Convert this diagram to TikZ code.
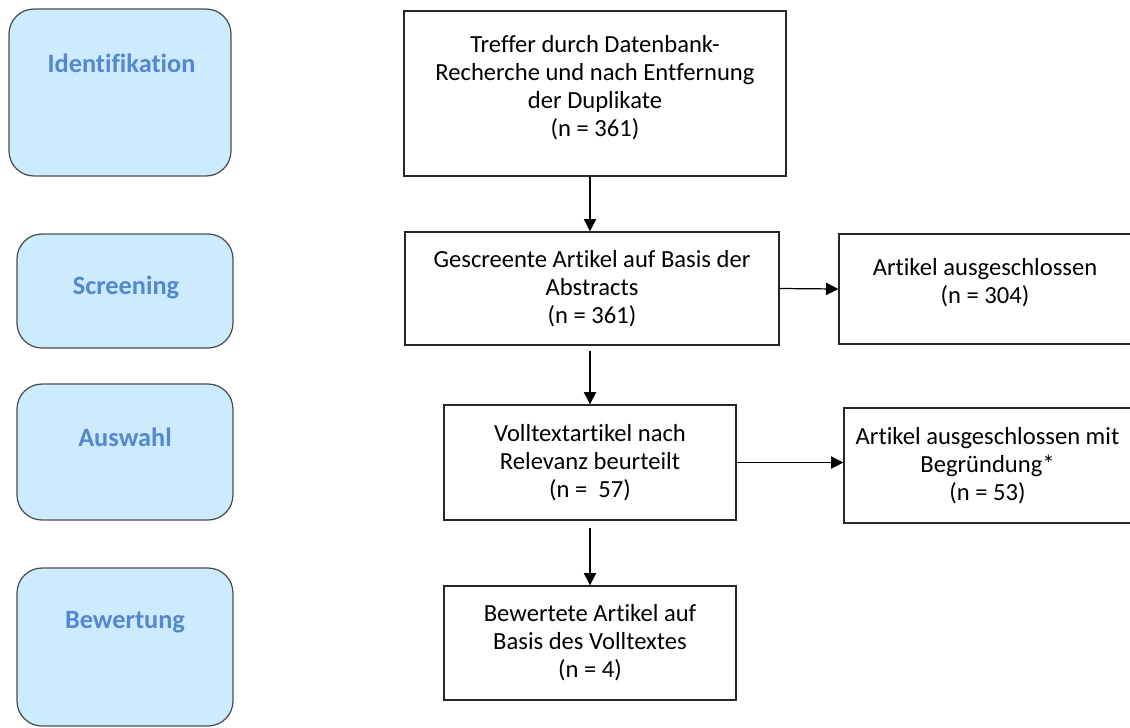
\documentclass[tikz,border=0pt]{standalone}
\usepackage{fontspec}
\setmainfont{Carlito}[Ligatures=NoCommon]
\usepackage{xcolor}
\usetikzlibrary{arrows.meta}

\definecolor{phasefill}{RGB}{204,235,255}
\definecolor{phasetext}{RGB}{84,135,205}

\begin{document}
\begin{tikzpicture}[
    phase/.style={rectangle, draw=black!70, fill=phasefill, line width=0.7pt, rounded corners=0.5cm, inner sep=0pt},
    phaselabel/.style={font=\fontsize{15}{18}\selectfont\bfseries, text=phasetext, inner sep=0pt},
    recbox/.style={rectangle, draw=black!85, line width=0.8pt, align=center, inner sep=0pt, font=\fontsize{14}{16}\selectfont},
    arrow/.style={line width=0.7pt, -{Triangle[length=7pt, width=7pt]}}
]
    \useasboundingbox (0,0) rectangle (22.6,-14.54);

    % phases on the left
    \node[phase, minimum width=4.44cm, minimum height=3.34cm] (ident) at (2.40,-1.85) {};
    \node[phase, minimum width=4.32cm, minimum height=2.28cm] (screen) at (2.50,-5.82) {};
    \node[phase, minimum width=4.32cm, minimum height=2.72cm] (auswahl) at (2.50,-9.04) {};
    \node[phase, minimum width=4.32cm, minimum height=3.16cm] (bewert) at (2.50,-12.94) {};

    \node[phaselabel] (identlbl) at (2.43,-1.26) {Identifikation};
    \node[phaselabel] (screenlbl) at (2.52,-5.74) {Screening};
    \node[phaselabel] (auswahllbl) at (2.50,-8.74) {Auswahl};
    \node[phaselabel] (bewertlbl) at (2.50,-12.44) {Bewertung};

    % flow
    \node[recbox, minimum width=7.64cm, minimum height=3.30cm] (treffer) at (11.90,-1.87) {Treffer durch Datenbank-\\Recherche und nach Entfernung\\der Duplikate\\(n = 361)\\[-0.25cm]};
    \node[recbox, minimum width=7.48cm, minimum height=2.26cm] (gescreent) at (11.84,-5.77) {Gescreente Artikel auf Basis der\\Abstracts\\(n = 361)};
    \node[recbox, minimum width=5.84cm, minimum height=2.20cm] (ausgeschl) at (19.70,-5.78) {Artikel ausgeschlossen\\(n = 304)\\[-0.25cm]};
    \node[recbox, minimum width=5.84cm, minimum height=2.30cm] (volltext) at (11.80,-9.25) {Volltextartikel nach\\Relevanz beurteilt\\(n =\ \ 57)};
    \node[recbox, minimum width=5.74cm, minimum height=2.30cm] (begruendet) at (19.75,-9.31) {Artikel ausgeschlossen mit\\Begründung*\\(n = 53)};
    \node[recbox, minimum width=5.84cm, minimum height=2.28cm] (bewertet) at (11.80,-12.86) {Bewertete Artikel auf\\Basis des Volltextes\\(n = 4)};

    \draw[arrow] (treffer.south -| volltext) -- (gescreent.north -| volltext);
    \draw[arrow, shorten <=0.1cm] (gescreent.south -| volltext) -- (volltext.north);
    \draw[arrow, shorten <=0.14cm] (volltext.south) -- (bewertet.north);
    \draw[arrow] (gescreent.east) -- (ausgeschl.west);
    \draw[arrow] (volltext.east) -- (volltext.east -| begruendet.west);
\end{tikzpicture}
\end{document}
